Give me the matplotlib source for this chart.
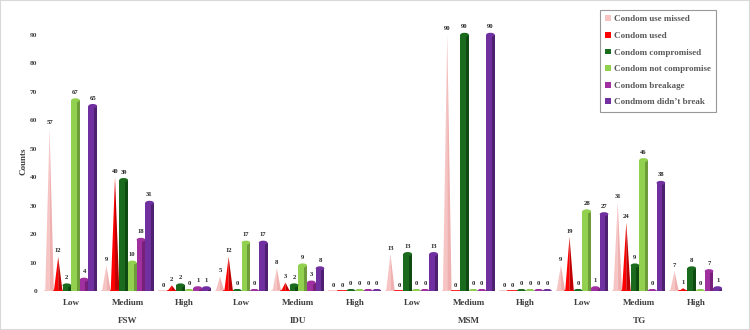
import numpy as np
import matplotlib.pyplot as plt
from matplotlib.patches import Ellipse, Patch, Rectangle

plt.rcParams["font.family"] = ["Liberation Serif", "DejaVu Serif"]
plt.rcParams["font.weight"] = "bold"

levels = ["Low", "Medium", "High"] * 4
groups = ["FSW", "IDU", "MSM", "TG"]
series = ["Condom use missed", "Condom used", "Condom compromised",
          "Condom not compromise", "Condom breakage", "Condmom didn\u2019t break"]

use_missed = [57, 9, 0, 5, 8, 0, 13, 90, 0, 9, 31, 7]
used = [12, 40, 2, 12, 3, 0, 0, 0, 0, 19, 24, 1]
compromised = [2, 39, 2, 0, 2, 0, 13, 90, 0, 0, 9, 8]
not_compromised = [67, 10, 0, 17, 9, 0, 0, 0, 0, 28, 46, 0]
breakage = [4, 18, 1, 0, 3, 0, 0, 0, 0, 1, 0, 7]
didnt_break = [65, 31, 1, 17, 8, 0, 13, 90, 0, 27, 38, 1]

values = [use_missed, used, compromised, not_compromised, breakage, didnt_break]
colors = ["#f7c4c4", "#ff0000", "#1b6b1f", "#92d050", "#a0309f", "#7030a0"]
shades = ["#efb0b0", "#c00000", "#0f4a13", "#6e9c3a", "#76207a", "#4e2070"]
kind = ["cone", "cone", "cyl", "cyl", "cyl", "cyl"]

fig = plt.figure(figsize=(7.5, 3.3), dpi=100)
ax = fig.add_axes([0.057, 0.118, 0.909, 0.837])
x = np.arange(len(levels))
w = 0.152
ymax = 97

for i, vals in enumerate(values):
    xs = x + (i - 2.5) * w
    for xc, v in zip(xs, vals):
        if kind[i] == "cone":
            ax.fill([xc - w / 2, xc, xc], [0, v, 0], color=colors[i], lw=0, zorder=2)
            ax.fill([xc, xc + w / 2, xc], [0, 0, v], color=shades[i], lw=0, zorder=2)
            ax.plot([xc - w / 2, xc + w / 2], [0, 0], color=colors[i], lw=1.2, zorder=2)
            top = v
        else:
            ax.bar(xc, v, width=w, color=colors[i], lw=0, zorder=2)
            ax.bar(xc + w * 0.33, v, width=w * 0.34, color=shades[i], lw=0, zorder=2)
            ax.add_patch(Ellipse((xc, v), w, 1.4, color=colors[i], lw=0, zorder=3))
            ax.add_patch(Ellipse((xc, 0), w, 1.4, color=shades[i], lw=0, zorder=1))
            top = v + 0.7
        ax.text(xc, top + 1.2, str(v), ha="center", va="bottom", fontsize=4.8,
                fontweight="bold", color="#262626", zorder=4)

ax.set_xlim(-0.5, len(levels) - 0.5)
ax.set_ylim(0, ymax)
ax.set_yticks(range(0, 91, 10))
ax.set_xticks(x)
ax.set_xticklabels(levels)
ax.tick_params(axis="x", length=0, pad=6, labelsize=6.5, labelcolor="#404040")
ax.tick_params(axis="y", length=0, pad=4, labelsize=5.3, labelcolor="#404040")
for s in ax.spines.values():
    s.set_visible(False)
ax.set_ylabel("Counts", fontsize=6.5, fontweight="bold", color="#404040")
ax.yaxis.set_label_coords(-0.022, 0.47)

for k, g in enumerate(groups):
    ax.text(3 * k + 1, -0.095, g, transform=ax.get_xaxis_transform(), ha="center",
            va="top", fontsize=6.5, fontweight="bold", color="#404040")

handles = [Patch(facecolor=c, edgecolor="none") for c in colors]
leg = fig.legend(handles, series, loc="upper left", bbox_to_anchor=(0.8, 0.97),
                 fontsize=6.5, frameon=True, fancybox=False, handlelength=0.6,
                 handleheight=0.6, handletextpad=0.3, labelspacing=0.95,
                 borderpad=0.6, borderaxespad=0)
leg.get_frame().set_edgecolor("#7f7f7f")
leg.get_frame().set_linewidth(0.8)
for t in leg.get_texts():
    t.set_color("#595959")
    t.set_fontweight("bold")

fig.patches.append(Rectangle((0, 0), 1, 1, transform=fig.transFigure, fill=False,
                             edgecolor="#d9d9d9", lw=1.5))
fig.savefig("out.png", dpi=100)
